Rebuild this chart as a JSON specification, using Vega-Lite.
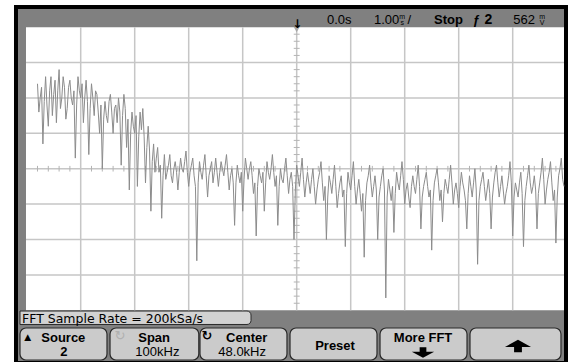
{
  "$schema": "https://vega.github.io/schema/vega-lite/v6.json",
  "width": 568,
  "height": 362,
  "autosize": {"type": "fit", "contains": "padding"},
  "padding": 0,
  "background": "#ffffff",
  "config": {"view": {"stroke": null}, "axis": {"disable": true}},
  "datasets": {
    "trace": [
      {"f":0,"v":6.4},{"f":0.25,"v":5.6},{"f":0.5,"v":6.0},{"f":0.75,"v":6.3},{"f":1,"v":4.7},{"f":1.25,"v":5.9},{"f":1.5,"v":6.6},{"f":1.75,"v":5.8},
      {"f":2,"v":5.2},{"f":2.25,"v":6.2},{"f":2.5,"v":6.6},{"f":2.75,"v":5.5},{"f":3,"v":6.1},{"f":3.25,"v":6.5},{"f":3.5,"v":5.3},{"f":3.75,"v":6.2},
      {"f":4,"v":6.8},{"f":4.25,"v":5.7},{"f":4.5,"v":6.0},{"f":4.75,"v":6.6},{"f":5,"v":6.3},{"f":5.25,"v":5.4},{"f":5.5,"v":5.7},{"f":5.75,"v":6.3},
      {"f":6,"v":6.5},{"f":6.25,"v":6.0},{"f":6.5,"v":5.8},{"f":6.75,"v":6.2},{"f":7,"v":4.3},{"f":7.25,"v":5.8},{"f":7.5,"v":6.6},{"f":7.75,"v":6.2},
      {"f":8,"v":6.0},{"f":8.25,"v":6.4},{"f":8.5,"v":5.3},{"f":8.75,"v":6.0},{"f":9,"v":6.5},{"f":9.25,"v":5.9},{"f":9.5,"v":4.4},{"f":9.75,"v":5.7},
      {"f":10,"v":6.4},{"f":10.25,"v":6.0},{"f":10.5,"v":5.5},{"f":10.75,"v":6.2},{"f":11,"v":6.1},{"f":11.25,"v":5.6},{"f":11.5,"v":5.0},{"f":11.75,"v":5.8},
      {"f":12,"v":4.0},{"f":12.25,"v":5.4},{"f":12.5,"v":5.9},{"f":12.75,"v":5.5},{"f":13,"v":5.3},{"f":13.25,"v":5.9},{"f":13.5,"v":6.1},{"f":13.75,"v":5.6},
      {"f":14,"v":5.0},{"f":14.25,"v":5.7},{"f":14.5,"v":5.8},{"f":14.75,"v":5.3},{"f":15,"v":6.0},{"f":15.25,"v":5.6},{"f":15.5,"v":4.1},{"f":15.75,"v":5.5},
      {"f":16,"v":6.1},{"f":16.25,"v":5.7},{"f":16.5,"v":4.6},{"f":16.75,"v":5.4},{"f":17,"v":3.4},{"f":17.25,"v":5.0},{"f":17.5,"v":5.6},{"f":17.75,"v":5.2},
      {"f":18,"v":5.0},{"f":18.25,"v":5.5},{"f":18.5,"v":3.5},{"f":18.75,"v":4.9},{"f":19,"v":5.6},{"f":19.25,"v":5.1},{"f":19.5,"v":5.7},{"f":19.75,"v":4.9},
      {"f":20,"v":3.6},{"f":20.25,"v":4.6},{"f":20.5,"v":5.2},{"f":20.75,"v":4.5},{"f":21,"v":2.8},{"f":21.25,"v":4.2},{"f":21.5,"v":4.7},{"f":21.75,"v":3.9},
      {"f":22,"v":4.3},{"f":22.25,"v":4.6},{"f":22.5,"v":3.9},{"f":22.75,"v":4.1},{"f":23,"v":2.6},{"f":23.25,"v":3.8},{"f":23.5,"v":4.4},{"f":23.75,"v":3.7},
      {"f":24,"v":3.9},{"f":24.25,"v":4.1},{"f":24.5,"v":4.4},{"f":24.75,"v":3.8},{"f":25,"v":3.6},{"f":25.25,"v":4.0},{"f":25.5,"v":4.2},{"f":25.75,"v":3.9},
      {"f":26,"v":3.4},{"f":26.25,"v":3.9},{"f":26.5,"v":4.3},{"f":26.75,"v":4.0},{"f":27,"v":3.9},{"f":27.25,"v":4.2},{"f":27.5,"v":4.5},{"f":27.75,"v":3.9},
      {"f":28,"v":3.5},{"f":28.25,"v":3.9},{"f":28.5,"v":4.1},{"f":28.75,"v":4.3},{"f":29,"v":3.8},{"f":29.25,"v":3.5},{"f":29.5,"v":1.4},{"f":29.75,"v":3.6},
      {"f":30,"v":4.2},{"f":30.25,"v":3.9},{"f":30.5,"v":3.7},{"f":30.75,"v":4.1},{"f":31,"v":4.4},{"f":31.25,"v":3.8},{"f":31.5,"v":3.2},{"f":31.75,"v":3.8},
      {"f":32,"v":4.0},{"f":32.25,"v":4.2},{"f":32.5,"v":3.6},{"f":32.75,"v":3.9},{"f":33,"v":4.3},{"f":33.25,"v":3.9},{"f":33.5,"v":3.5},{"f":33.75,"v":3.9},
      {"f":34,"v":4.2},{"f":34.25,"v":4.0},{"f":34.5,"v":3.8},{"f":34.75,"v":4.1},{"f":35,"v":4.4},{"f":35.25,"v":3.9},{"f":35.5,"v":3.4},{"f":35.75,"v":3.8},
      {"f":36,"v":4.0},{"f":36.25,"v":3.6},{"f":36.5,"v":2.4},{"f":36.75,"v":3.6},{"f":37,"v":4.1},{"f":37.25,"v":3.8},{"f":37.5,"v":3.6},{"f":37.75,"v":3.9},
      {"f":38,"v":2.8},{"f":38.25,"v":3.7},{"f":38.5,"v":4.3},{"f":38.75,"v":4.0},{"f":39,"v":3.7},{"f":39.25,"v":4.0},{"f":39.5,"v":4.2},{"f":39.75,"v":3.8},
      {"f":40,"v":3.3},{"f":40.25,"v":3.6},{"f":40.5,"v":2.1},{"f":40.75,"v":3.5},{"f":41,"v":4.0},{"f":41.25,"v":3.8},{"f":41.5,"v":3.6},{"f":41.75,"v":3.9},
      {"f":42,"v":2.8},{"f":42.25,"v":3.6},{"f":42.5,"v":4.2},{"f":42.75,"v":3.9},{"f":43,"v":3.7},{"f":43.25,"v":4.0},{"f":43.5,"v":4.4},{"f":43.75,"v":3.9},
      {"f":44,"v":3.5},{"f":44.25,"v":3.8},{"f":44.5,"v":2.4},{"f":44.75,"v":3.5},{"f":45,"v":4.0},{"f":45.25,"v":3.7},{"f":45.5,"v":3.6},{"f":45.75,"v":4.0},
      {"f":46,"v":4.3},{"f":46.25,"v":3.8},{"f":46.5,"v":3.3},{"f":46.75,"v":3.7},{"f":47,"v":3.9},{"f":47.25,"v":3.5},{"f":47.5,"v":2.0},{"f":47.75,"v":3.4},
      {"f":48,"v":4.1},{"f":48.25,"v":3.8},{"f":48.5,"v":3.5},{"f":48.75,"v":3.9},{"f":49,"v":4.3},{"f":49.25,"v":3.7},{"f":49.5,"v":3.2},{"f":49.75,"v":3.6},
      {"f":50,"v":3.9},{"f":50.25,"v":3.6},{"f":50.5,"v":3.3},{"f":50.75,"v":3.7},{"f":51,"v":4.0},{"f":51.25,"v":3.5},{"f":51.5,"v":3.0},{"f":51.75,"v":3.4},
      {"f":52,"v":3.7},{"f":52.25,"v":3.9},{"f":52.5,"v":4.2},{"f":52.75,"v":3.6},{"f":53,"v":3.1},{"f":53.25,"v":3.5},{"f":53.5,"v":2.0},{"f":53.75,"v":3.2},
      {"f":54,"v":3.8},{"f":54.25,"v":3.6},{"f":54.5,"v":3.3},{"f":54.75,"v":3.7},{"f":55,"v":4.1},{"f":55.25,"v":3.5},{"f":55.5,"v":2.9},{"f":55.75,"v":3.3},
      {"f":56,"v":3.6},{"f":56.25,"v":3.8},{"f":56.5,"v":3.2},{"f":56.75,"v":3.4},{"f":57,"v":1.8},{"f":57.25,"v":3.3},{"f":57.5,"v":3.9},{"f":57.75,"v":3.6},
      {"f":58,"v":3.4},{"f":58.25,"v":3.8},{"f":58.5,"v":4.2},{"f":58.75,"v":3.5},{"f":59,"v":3.0},{"f":59.25,"v":3.4},{"f":59.5,"v":3.7},{"f":59.75,"v":3.3},
      {"f":60,"v":2.8},{"f":60.25,"v":3.3},{"f":60.5,"v":1.5},{"f":60.75,"v":3.1},{"f":61,"v":3.6},{"f":61.25,"v":3.8},{"f":61.5,"v":4.1},{"f":61.75,"v":3.6},
      {"f":62,"v":3.2},{"f":62.25,"v":3.5},{"f":62.5,"v":3.8},{"f":62.75,"v":3.4},{"f":63,"v":2.0},{"f":63.25,"v":3.2},{"f":63.5,"v":3.5},{"f":63.75,"v":3.8},
      {"f":64,"v":4.0},{"f":64.25,"v":3.4},{"f":64.5,"v":0.35},{"f":64.75,"v":3.2},{"f":65,"v":3.7},{"f":65.25,"v":3.4},{"f":65.5,"v":3.1},{"f":65.75,"v":3.5},
      {"f":66,"v":2.2},{"f":66.25,"v":3.3},{"f":66.5,"v":3.9},{"f":66.75,"v":3.6},{"f":67,"v":3.4},{"f":67.25,"v":3.8},{"f":67.5,"v":4.2},{"f":67.75,"v":3.7},
      {"f":68,"v":3.0},{"f":68.25,"v":3.4},{"f":68.5,"v":3.6},{"f":68.75,"v":3.2},{"f":69,"v":2.9},{"f":69.25,"v":3.5},{"f":69.5,"v":3.8},{"f":69.75,"v":3.5},
      {"f":70,"v":3.3},{"f":70.25,"v":3.7},{"f":70.5,"v":4.1},{"f":70.75,"v":3.5},{"f":71,"v":2.3},{"f":71.25,"v":3.2},{"f":71.5,"v":3.5},{"f":71.75,"v":3.7},
      {"f":72,"v":3.9},{"f":72.25,"v":3.5},{"f":72.5,"v":3.2},{"f":72.75,"v":3.4},{"f":73,"v":1.7},{"f":73.25,"v":3.1},{"f":73.5,"v":3.6},{"f":73.75,"v":3.8},
      {"f":74,"v":4.0},{"f":74.25,"v":3.6},{"f":74.5,"v":3.1},{"f":74.75,"v":3.4},{"f":75,"v":2.5},{"f":75.25,"v":3.3},{"f":75.5,"v":3.7},{"f":75.75,"v":3.5},
      {"f":76,"v":3.3},{"f":76.25,"v":3.7},{"f":76.5,"v":4.1},{"f":76.75,"v":3.6},{"f":77,"v":3.0},{"f":77.25,"v":3.4},{"f":77.5,"v":3.6},{"f":77.75,"v":3.3},
      {"f":78,"v":2.9},{"f":78.25,"v":3.5},{"f":78.5,"v":3.9},{"f":78.75,"v":3.6},{"f":79,"v":3.4},{"f":79.25,"v":3.1},{"f":79.5,"v":2.3},{"f":79.75,"v":3.3},
      {"f":80,"v":3.8},{"f":80.25,"v":3.5},{"f":80.5,"v":3.2},{"f":80.75,"v":3.6},{"f":81,"v":4.0},{"f":81.25,"v":3.4},{"f":81.5,"v":1.3},{"f":81.75,"v":3.1},
      {"f":82,"v":3.5},{"f":82.25,"v":3.7},{"f":82.5,"v":3.9},{"f":82.75,"v":3.5},{"f":83,"v":3.1},{"f":83.25,"v":3.4},{"f":83.5,"v":3.7},{"f":83.75,"v":3.3},
      {"f":84,"v":2.3},{"f":84.25,"v":3.2},{"f":84.5,"v":3.6},{"f":84.75,"v":3.9},{"f":85,"v":4.1},{"f":85.25,"v":3.6},{"f":85.5,"v":3.2},{"f":85.75,"v":3.5},
      {"f":86,"v":3.8},{"f":86.25,"v":3.4},{"f":86.5,"v":3.0},{"f":86.75,"v":3.3},{"f":87,"v":3.5},{"f":87.25,"v":3.8},{"f":87.5,"v":4.2},{"f":87.75,"v":3.6},
      {"f":88,"v":2.1},{"f":88.25,"v":3.2},{"f":88.5,"v":3.6},{"f":88.75,"v":3.4},{"f":89,"v":3.2},{"f":89.25,"v":3.6},{"f":89.5,"v":3.9},{"f":89.75,"v":3.3},
      {"f":90,"v":1.8},{"f":90.25,"v":3.1},{"f":90.5,"v":3.5},{"f":90.75,"v":3.8},{"f":91,"v":4.1},{"f":91.25,"v":3.6},{"f":91.5,"v":3.3},{"f":91.75,"v":3.5},
      {"f":92,"v":3.8},{"f":92.25,"v":3.4},{"f":92.5,"v":2.3},{"f":92.75,"v":3.3},{"f":93,"v":3.6},{"f":93.25,"v":3.9},{"f":93.5,"v":4.3},{"f":93.75,"v":3.7},
      {"f":94,"v":3.0},{"f":94.25,"v":3.4},{"f":94.5,"v":3.7},{"f":94.75,"v":3.9},{"f":95,"v":4.2},{"f":95.25,"v":3.6},{"f":95.5,"v":3.1},{"f":95.75,"v":3.4},
      {"f":96,"v":1.9},{"f":96.25,"v":3.2},{"f":96.5,"v":3.8},{"f":96.75,"v":4.0},{"f":97,"v":4.3},{"f":97.25,"v":3.7},{"f":97.5,"v":3.5}
    ],
    "panels": [
      {"kind":"frame","f1":-4.352,"f2":98.241,"d1":-1.46,"d2":8.624},
      {"kind":"bezel","f1":-3.611,"f2":97.5,"d1":-1.432,"d2":8.511},
      {"kind":"screen","f1":-2.13,"f2":97.5,"d1":0.0,"d2":7.994}
    ],
    "buttons": [
      {"name":"Source","f1":-3.241,"f2":12.87,"d1":-1.404,"d2":-0.5},
      {"name":"Span","f1":13.43,"f2":29.87,"d1":-1.404,"d2":-0.5},
      {"name":"Center","f1":30.09,"f2":46.2,"d1":-1.404,"d2":-0.5},
      {"name":"Preset","f1":46.76,"f2":62.87,"d1":-1.404,"d2":-0.5},
      {"name":"More FFT","f1":63.43,"f2":79.54,"d1":-1.404,"d2":-0.5},
      {"name":"Up","f1":80.09,"f2":96.94,"d1":-1.404,"d2":-0.5}
    ],
    "labels": [
      {"g":"st","text":"0.0s","f":53.6,"d":8.09},
      {"g":"st","text":"1.00","f":62.31,"d":8.09},
      {"g":"st","text":"/","f":68.5,"d":8.09},
      {"g":"st","text":"562","f":88.09,"d":8.09},
      {"g":"sm","text":"m","f":67.0,"d":8.24},
      {"g":"sm","text":"s","f":67.2,"d":8.06},
      {"g":"sm","text":"m","f":92.9,"d":8.24},
      {"g":"sm","text":"V","f":93.0,"d":8.06},
      {"g":"sb","text":"Stop","f":73.43,"d":8.09},
      {"g":"sb","text":"ƒ","f":80.6,"d":8.09},
      {"g":"sb2","text":"2","f":82.8,"d":8.09},
      {"g":"fft","text":"FFT Sample Rate = 200kSa/s","f":-2.87,"d":-0.345},
      {"g":"bb","text":"Source","f":4.78,"d":-0.881},
      {"g":"bb","text":"2","f":4.9,"d":-1.291},
      {"g":"bb","text":"Span","f":21.6,"d":-0.881},
      {"g":"bb","text":"Center","f":38.74,"d":-0.881},
      {"g":"bb","text":"Preset","f":55.1,"d":-1.107},
      {"g":"bb","text":"More FFT","f":71.4,"d":-0.881},
      {"g":"bn","text":"100kHz","f":22.2,"d":-1.291},
      {"g":"bn","text":"48.0kHz","f":37.9,"d":-1.291},
      {"g":"tri","text":"▲","f":-1.82,"d":-0.84},
      {"g":"icf","text":"↻","f":15.28,"d":-0.84},
      {"g":"icd","text":"↻","f":31.39,"d":-0.84},
      {"g":"trg","text":"↓","f":48.1,"d":7.97}
    ]
  },
  "layer": [
    {
      "data": {"name": "panels"},
      "mark": {"type": "rect"},
      "encoding": {
        "x": {"field": "f1", "type": "quantitative", "scale": {"domain": [-6.944, 98.241], "nice": false, "zero": false}},
        "x2": {"field": "f2"},
        "y": {"field": "d1", "type": "quantitative", "scale": {"domain": [-1.46, 8.766], "nice": false, "zero": false}},
        "y2": {"field": "d2"},
        "color": {"field": "kind", "type": "nominal", "scale": {"domain": ["frame", "bezel", "screen"], "range": ["#000000", "#808080", "#ffffff"]}, "legend": null}
      }
    },
    {
      "data": {"values": [{"label": "FFT Sample Rate", "f1": -3.24, "f2": 39.54, "d1": -0.40, "d2": -0.02}]},
      "mark": {"type": "rect", "fill": "#d2d2d2", "stroke": "#2a2a2a", "strokeWidth": 1, "cornerRadiusTopRight": 4, "cornerRadiusBottomRight": 4},
      "encoding": {
        "x": {"field": "f1", "type": "quantitative", "scale": {"domain": [-6.944, 98.241], "nice": false, "zero": false}},
        "x2": {"field": "f2"},
        "y": {"field": "d1", "type": "quantitative", "scale": {"domain": [-1.46, 8.766], "nice": false, "zero": false}},
        "y2": {"field": "d2"}
      }
    },
    {
      "data": {"name": "buttons"},
      "mark": {"type": "rect", "fill": "#cbcbcb", "stroke": "#2a2a2a", "strokeWidth": 1.2, "cornerRadius": 6},
      "encoding": {
        "x": {"field": "f1", "type": "quantitative", "scale": {"domain": [-6.944, 98.241], "nice": false, "zero": false}},
        "x2": {"field": "f2"},
        "y": {"field": "d1", "type": "quantitative", "scale": {"domain": [-1.46, 8.766], "nice": false, "zero": false}},
        "y2": {"field": "d2"}
      }
    },
    {
      "data": {"values": [{"f": 8}, {"f": 18}, {"f": 28}, {"f": 38}, {"f": 48}, {"f": 58}, {"f": 68}, {"f": 78}, {"f": 88}]},
      "mark": {"type": "rule", "color": "#c6c6c6", "strokeWidth": 1.5},
      "encoding": {
        "x": {"field": "f", "type": "quantitative", "scale": {"domain": [-6.944, 98.241], "nice": false, "zero": false}},
        "y": {"datum": 0, "type": "quantitative", "scale": {"domain": [-1.46, 8.766], "nice": false, "zero": false}},
        "y2": {"datum": 7.994}
      }
    },
    {
      "data": {"values": [{"d": 1}, {"d": 2}, {"d": 3}, {"d": 4}, {"d": 5}, {"d": 6}, {"d": 7}]},
      "mark": {"type": "rule", "color": "#c6c6c6", "strokeWidth": 1.5},
      "encoding": {
        "y": {"field": "d", "type": "quantitative", "scale": {"domain": [-1.46, 8.766], "nice": false, "zero": false}},
        "x": {"datum": -2.13, "type": "quantitative", "scale": {"domain": [-6.944, 98.241], "nice": false, "zero": false}},
        "x2": {"datum": 97.5}
      }
    },
    {
      "data": {"values": [
        {"f":0},{"f":2},{"f":4},{"f":6},{"f":10},{"f":12},{"f":14},{"f":16},{"f":20},{"f":22},{"f":24},{"f":26},
        {"f":30},{"f":32},{"f":34},{"f":36},{"f":40},{"f":42},{"f":44},{"f":46},{"f":50},{"f":52},{"f":54},{"f":56},
        {"f":60},{"f":62},{"f":64},{"f":66},{"f":70},{"f":72},{"f":74},{"f":76},{"f":80},{"f":82},{"f":84},{"f":86},
        {"f":90},{"f":92},{"f":94},{"f":96}
      ]},
      "mark": {"type": "rule", "color": "#b4b4b4", "strokeWidth": 1},
      "encoding": {
        "x": {"field": "f", "type": "quantitative", "scale": {"domain": [-6.944, 98.241], "nice": false, "zero": false}},
        "y": {"datum": 3.92, "type": "quantitative", "scale": {"domain": [-1.46, 8.766], "nice": false, "zero": false}},
        "y2": {"datum": 4.08}
      }
    },
    {
      "data": {"values": [
        {"d":0.2},{"d":0.4},{"d":0.6},{"d":0.8},{"d":1.2},{"d":1.4},{"d":1.6},{"d":1.8},{"d":2.2},{"d":2.4},{"d":2.6},{"d":2.8},
        {"d":3.2},{"d":3.4},{"d":3.6},{"d":3.8},{"d":4.2},{"d":4.4},{"d":4.6},{"d":4.8},{"d":5.2},{"d":5.4},{"d":5.6},{"d":5.8},
        {"d":6.2},{"d":6.4},{"d":6.6},{"d":6.8},{"d":7.2},{"d":7.4},{"d":7.6},{"d":7.8}
      ]},
      "mark": {"type": "rule", "color": "#b4b4b4", "strokeWidth": 1},
      "encoding": {
        "y": {"field": "d", "type": "quantitative", "scale": {"domain": [-1.46, 8.766], "nice": false, "zero": false}},
        "x": {"datum": 47.45, "type": "quantitative", "scale": {"domain": [-6.944, 98.241], "nice": false, "zero": false}},
        "x2": {"datum": 48.55}
      }
    },
    {
      "data": {"name": "trace"},
      "mark": {"type": "line", "color": "#8c8c8c", "strokeWidth": 1, "interpolate": "linear"},
      "encoding": {
        "x": {"field": "f", "type": "quantitative", "scale": {"domain": [-6.944, 98.241], "nice": false, "zero": false}},
        "y": {"field": "v", "type": "quantitative", "scale": {"domain": [-1.46, 8.766], "nice": false, "zero": false}}
      }
    },
    {
      "data": {"values": [{"f": 48, "d": 7.93}]},
      "mark": {"type": "point", "shape": "triangle-down", "filled": true, "color": "#a8a8a8", "size": 35, "opacity": 1},
      "encoding": {
        "x": {"field": "f", "type": "quantitative", "scale": {"domain": [-6.944, 98.241], "nice": false, "zero": false}},
        "y": {"field": "d", "type": "quantitative", "scale": {"domain": [-1.46, 8.766], "nice": false, "zero": false}}
      }
    },
    {
      "data": {"values": [{"button": "More FFT", "f": 71.39, "d": -1.2}]},
      "mark": {"type": "point", "shape": "M-0.3,-0.5L0.3,-0.5L0.3,-0.1L1,-0.1L0,0.45L-1,-0.1L-0.3,-0.1Z", "filled": true, "color": "#000000", "size": 500, "opacity": 1},
      "encoding": {
        "x": {"field": "f", "type": "quantitative", "scale": {"domain": [-6.944, 98.241], "nice": false, "zero": false}},
        "y": {"field": "d", "type": "quantitative", "scale": {"domain": [-1.46, 8.766], "nice": false, "zero": false}}
      }
    },
    {
      "data": {"values": [{"button": "Up", "f": 88.98, "d": -1.0}]},
      "mark": {"type": "point", "shape": "M0,-0.45L1,0.1L0.3,0.1L0.3,0.5L-0.3,0.5L-0.3,0.1L-1,0.1Z", "filled": true, "color": "#000000", "size": 680, "opacity": 1},
      "encoding": {
        "x": {"field": "f", "type": "quantitative", "scale": {"domain": [-6.944, 98.241], "nice": false, "zero": false}},
        "y": {"field": "d", "type": "quantitative", "scale": {"domain": [-1.46, 8.766], "nice": false, "zero": false}}
      }
    },
    {
      "data": {"name": "labels"},
      "transform": [{"filter": "datum.g === 'st'"}],
      "mark": {"type": "text", "align": "left", "baseline": "alphabetic", "font": "Liberation Sans", "fontSize": 13, "color": "#000000"},
      "encoding": {
        "x": {"field": "f", "type": "quantitative", "scale": {"domain": [-6.944, 98.241], "nice": false, "zero": false}},
        "y": {"field": "d", "type": "quantitative", "scale": {"domain": [-1.46, 8.766], "nice": false, "zero": false}},
        "text": {"field": "text"}
      }
    },
    {
      "data": {"name": "labels"},
      "transform": [{"filter": "datum.g === 'sm'"}],
      "mark": {"type": "text", "align": "left", "baseline": "alphabetic", "font": "Liberation Sans", "fontSize": 7, "color": "#000000"},
      "encoding": {
        "x": {"field": "f", "type": "quantitative", "scale": {"domain": [-6.944, 98.241], "nice": false, "zero": false}},
        "y": {"field": "d", "type": "quantitative", "scale": {"domain": [-1.46, 8.766], "nice": false, "zero": false}},
        "text": {"field": "text"}
      }
    },
    {
      "data": {"name": "labels"},
      "transform": [{"filter": "datum.g === 'sb'"}],
      "mark": {"type": "text", "align": "left", "baseline": "alphabetic", "font": "Liberation Sans", "fontSize": 13, "fontWeight": "bold", "color": "#000000"},
      "encoding": {
        "x": {"field": "f", "type": "quantitative", "scale": {"domain": [-6.944, 98.241], "nice": false, "zero": false}},
        "y": {"field": "d", "type": "quantitative", "scale": {"domain": [-1.46, 8.766], "nice": false, "zero": false}},
        "text": {"field": "text"}
      }
    },
    {
      "data": {"name": "labels"},
      "transform": [{"filter": "datum.g === 'sb2'"}],
      "mark": {"type": "text", "align": "left", "baseline": "alphabetic", "font": "Liberation Sans", "fontSize": 14, "fontWeight": "bold", "color": "#000000"},
      "encoding": {
        "x": {"field": "f", "type": "quantitative", "scale": {"domain": [-6.944, 98.241], "nice": false, "zero": false}},
        "y": {"field": "d", "type": "quantitative", "scale": {"domain": [-1.46, 8.766], "nice": false, "zero": false}},
        "text": {"field": "text"}
      }
    },
    {
      "data": {"name": "labels"},
      "transform": [{"filter": "datum.g === 'fft'"}],
      "mark": {"type": "text", "align": "left", "baseline": "alphabetic", "font": "DejaVu Sans", "fontSize": 12.5, "color": "#000000"},
      "encoding": {
        "x": {"field": "f", "type": "quantitative", "scale": {"domain": [-6.944, 98.241], "nice": false, "zero": false}},
        "y": {"field": "d", "type": "quantitative", "scale": {"domain": [-1.46, 8.766], "nice": false, "zero": false}},
        "text": {"field": "text"}
      }
    },
    {
      "data": {"name": "labels"},
      "transform": [{"filter": "datum.g === 'bb'"}],
      "mark": {"type": "text", "align": "center", "baseline": "alphabetic", "font": "Liberation Sans", "fontSize": 13, "fontWeight": "bold", "color": "#000000"},
      "encoding": {
        "x": {"field": "f", "type": "quantitative", "scale": {"domain": [-6.944, 98.241], "nice": false, "zero": false}},
        "y": {"field": "d", "type": "quantitative", "scale": {"domain": [-1.46, 8.766], "nice": false, "zero": false}},
        "text": {"field": "text"}
      }
    },
    {
      "data": {"name": "labels"},
      "transform": [{"filter": "datum.g === 'bn'"}],
      "mark": {"type": "text", "align": "center", "baseline": "alphabetic", "font": "Liberation Sans", "fontSize": 13, "color": "#000000"},
      "encoding": {
        "x": {"field": "f", "type": "quantitative", "scale": {"domain": [-6.944, 98.241], "nice": false, "zero": false}},
        "y": {"field": "d", "type": "quantitative", "scale": {"domain": [-1.46, 8.766], "nice": false, "zero": false}},
        "text": {"field": "text"}
      }
    },
    {
      "data": {"name": "labels"},
      "transform": [{"filter": "datum.g === 'tri'"}],
      "mark": {"type": "text", "align": "center", "baseline": "alphabetic", "font": "DejaVu Sans", "fontSize": 9, "color": "#000000"},
      "encoding": {
        "x": {"field": "f", "type": "quantitative", "scale": {"domain": [-6.944, 98.241], "nice": false, "zero": false}},
        "y": {"field": "d", "type": "quantitative", "scale": {"domain": [-1.46, 8.766], "nice": false, "zero": false}},
        "text": {"field": "text"}
      }
    },
    {
      "data": {"name": "labels"},
      "transform": [{"filter": "datum.g === 'icf'"}],
      "mark": {"type": "text", "align": "center", "baseline": "alphabetic", "font": "DejaVu Sans", "fontSize": 13, "color": "#b0b0b0"},
      "encoding": {
        "x": {"field": "f", "type": "quantitative", "scale": {"domain": [-6.944, 98.241], "nice": false, "zero": false}},
        "y": {"field": "d", "type": "quantitative", "scale": {"domain": [-1.46, 8.766], "nice": false, "zero": false}},
        "text": {"field": "text"}
      }
    },
    {
      "data": {"name": "labels"},
      "transform": [{"filter": "datum.g === 'icd'"}],
      "mark": {"type": "text", "align": "center", "baseline": "alphabetic", "font": "DejaVu Sans", "fontSize": 13, "fontWeight": "bold", "color": "#000000"},
      "encoding": {
        "x": {"field": "f", "type": "quantitative", "scale": {"domain": [-6.944, 98.241], "nice": false, "zero": false}},
        "y": {"field": "d", "type": "quantitative", "scale": {"domain": [-1.46, 8.766], "nice": false, "zero": false}},
        "text": {"field": "text"}
      }
    },
    {
      "data": {"name": "labels"},
      "transform": [{"filter": "datum.g === 'trg'"}],
      "mark": {"type": "text", "align": "center", "baseline": "alphabetic", "font": "DejaVu Sans", "fontSize": 12, "fontWeight": "bold", "color": "#000000"},
      "encoding": {
        "x": {"field": "f", "type": "quantitative", "scale": {"domain": [-6.944, 98.241], "nice": false, "zero": false}},
        "y": {"field": "d", "type": "quantitative", "scale": {"domain": [-1.46, 8.766], "nice": false, "zero": false}},
        "text": {"field": "text"}
      }
    }
  ]
}
